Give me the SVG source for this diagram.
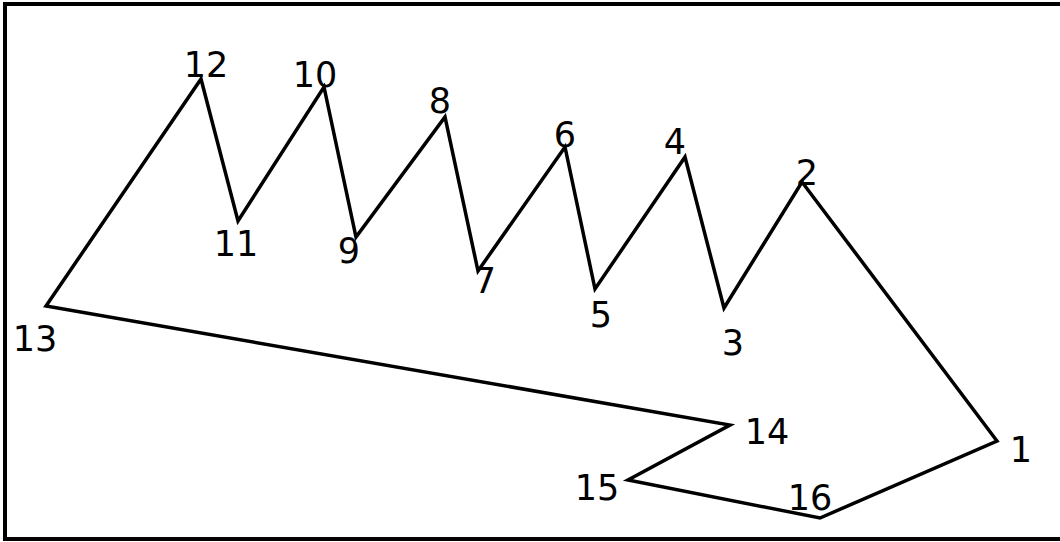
<svg xmlns="http://www.w3.org/2000/svg" width="1060" height="542" viewBox="0 0 1060 542">
  <style>
    .frame { fill: none; stroke: #000; stroke-width: 4; }
    .edge { fill: none; stroke: #000; stroke-width: 3.5; stroke-linejoin: miter; stroke-miterlimit: 10; }
    .lbl { font-family: "DejaVu Sans", "Liberation Sans", sans-serif; font-size: 35px; fill: #000; text-anchor: middle; }
  </style>
  <rect width="1060" height="542" fill="#fff"/>
  <rect class="frame" x="5" y="4" width="1070" height="535"/>
  <g id="connectors">
    <polygon class="edge" points="997,441 802,182 724,308 685,157 595,289 565,147 478,271 445,117 356,237 324,87 238,221 201,79 46,306 730,425 628,480 820,518"/>
  </g>
  <g id="n1"><text class="lbl" x="1021" y="462">1</text></g>
  <g id="n2"><text class="lbl" x="807" y="185">2</text></g>
  <g id="n3"><text class="lbl" x="733" y="355">3</text></g>
  <g id="n4"><text class="lbl" x="675" y="154">4</text></g>
  <g id="n5"><text class="lbl" x="601" y="327">5</text></g>
  <g id="n6"><text class="lbl" x="565" y="147">6</text></g>
  <g id="n7"><text class="lbl" x="485" y="293">7</text></g>
  <g id="n8"><text class="lbl" x="440" y="113">8</text></g>
  <g id="n9"><text class="lbl" x="349" y="263">9</text></g>
  <g id="n10"><text class="lbl" x="315" y="87">10</text></g>
  <g id="n11"><text class="lbl" x="236" y="256">11</text></g>
  <g id="n12"><text class="lbl" x="206" y="77">12</text></g>
  <g id="n13"><text class="lbl" x="35" y="351">13</text></g>
  <g id="n14"><text class="lbl" x="767" y="444">14</text></g>
  <g id="n15"><text class="lbl" x="597" y="500">15</text></g>
  <g id="n16"><text class="lbl" x="810" y="510">16</text></g>
</svg>
